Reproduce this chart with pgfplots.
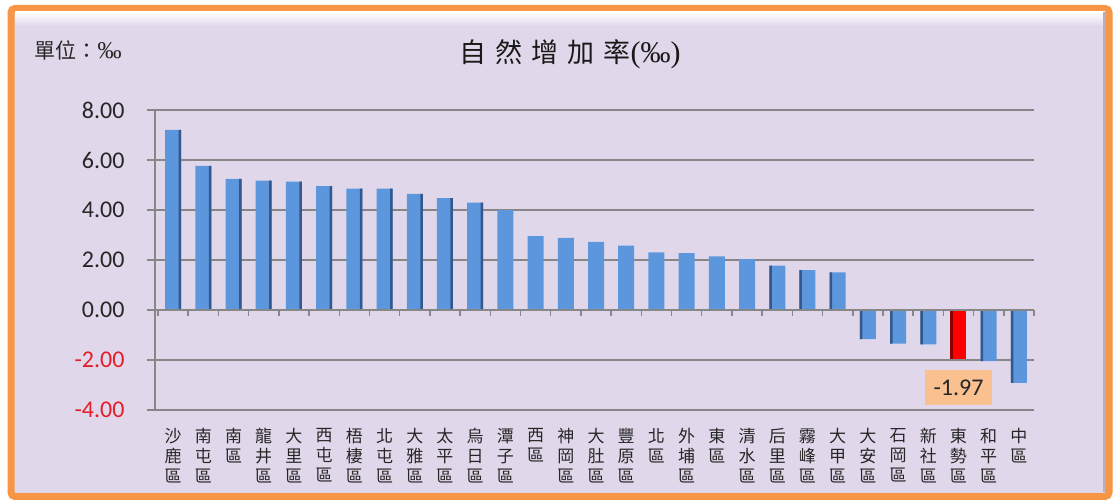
\documentclass[border=0pt]{standalone}
\usepackage{pgfplots}
\pgfplotsset{compat=1.18}
\usepackage{fontspec}
\setmainfont{Carlito}
\newfontfamily\cjk{Noto Sans CJK TC}
\newfontfamily\serifff{Liberation Serif}
\definecolor{bg}{RGB}{224,216,234}
\definecolor{orng}{RGB}{247,150,70}
\definecolor{barblue}{RGB}{92,151,222}
\definecolor{bardark}{RGB}{52,88,140}
\definecolor{gridgray}{RGB}{135,135,135}
\definecolor{lblbox}{RGB}{251,192,143}
\definecolor{negred}{RGB}{228,30,40}
\pgfplotstableread{
x y
0 7.20
1 5.76
2 5.24
3 5.17
4 5.13
5 4.95
6 4.85
7 4.85
8 4.64
9 4.47
10 4.29
11 3.99
12 2.95
13 2.88
14 2.72
15 2.57
16 2.30
17 2.27
18 2.14
19 2.03
20 1.77
21 1.59
22 1.50
23 -1.17
24 -1.35
25 -1.38
27 -2.05
28 -2.92
}\bluedata
\pgfplotstableread{
x y
26 -1.97
}\reddata
\pgfplotstableread{
x y
0 7.20
1 5.76
2 5.24
3 5.17
4 5.13
5 4.95
6 4.85
7 4.85
8 4.64
9 4.47
10 4.29
}\rightshade
\pgfplotstableread{
x y
20 1.77
21 1.59
22 1.50
23 -1.17
24 -1.35
25 -1.38
27 -2.05
28 -2.92
}\leftshade
\pgfplotstableread{
x y
26 -1.97
}\redshade
\begin{document}
\begin{tikzpicture}
\useasboundingbox (0pt,0pt) rectangle (1113pt,500pt);
\fill[white] (0pt,0pt) rectangle (1113pt,500pt);
\draw[orng, line width=7pt, fill=bg, rounded corners=4pt] (11pt,3.5pt) rectangle (1109pt,491.5pt);
\shade[top color=white, bottom color=bg] (15pt,474pt) rectangle (1105pt,488pt);
\fill[gray!45!bg] (1103pt,8pt) rectangle (1105.5pt,488pt);
\node[anchor=west, font=\cjk\fontsize{21}{24}\selectfont, text=black!85] at (31pt,450pt) {單位：{\serifff\fontsize{24}{24}\selectfont ‰}};
\node[font=\cjk\fontsize{27}{30}\selectfont, text=black!90] at (570pt,446pt) {自\hspace{9pt}然\hspace{9pt}增\hspace{9pt}加\hspace{9pt}率{\serifff\fontsize{30}{30}\selectfont (‰)}};
\begin{axis}[
  at={(155pt,90pt)}, anchor=south west,
  scale only axis, width=879pt, height=300pt,
  xmin=-0.6, xmax=28.5, ymin=-4, ymax=8,
  clip=false,
  axis x line*=bottom, axis y line*=left,
  axis line style={gridgray, line width=1.6pt},
  ymajorgrids, grid style={gridgray, line width=2pt},
  ytick={-4,-2,0,2,4,6,8},
  yticklabels={\textcolor{negred}{-4.00},\textcolor{negred}{-2.00},0.00,2.00,4.00,6.00,8.00},
  yticklabel style={font=\fontsize{24}{26}\selectfont, text=black!85, xshift=-19pt},
  tick align=outside, major tick length=8pt,
  ytick style={gridgray, line width=1.5pt},
  xtick={0,...,28},
  xtick style={draw=none},
  xticklabels={{沙\\鹿\\區},{南\\屯\\區},{南\\區},{龍\\井\\區},{大\\里\\區},{西\\屯\\區},{梧\\棲\\區},{北\\屯\\區},{大\\雅\\區},{太\\平\\區},{烏\\日\\區},{潭\\子\\區},{西\\區},{神\\岡\\區},{大\\肚\\區},{豐\\原\\區},{北\\區},{外\\埔\\區},{東\\區},{清\\水\\區},{后\\里\\區},{霧\\峰\\區},{大\\甲\\區},{大\\安\\區},{石\\岡\\區},{新\\社\\區},{東\\勢\\區},{和\\平\\區},{中\\區}},
  xticklabel style={font=\cjk\fontsize{17}{20}\selectfont, align=center, text=black!85, yshift=-7pt},
]
\addplot[ybar, bar width=16pt, bar shift=0pt, fill=barblue, draw=none] table[x=x,y=y] {\bluedata};
\addplot[ybar, bar width=16pt, bar shift=0pt, fill=red, draw=none] table[x=x,y=y] {\reddata};
\addplot[ybar, bar width=2.5pt, bar shift=6.75pt, fill=bardark, draw=none] table[x=x,y=y] {\rightshade};
\addplot[ybar, bar width=2.5pt, bar shift=-6.75pt, fill=bardark, draw=none] table[x=x,y=y] {\leftshade};
\addplot[ybar, bar width=2.5pt, bar shift=-6.75pt, fill=red!55!black, draw=none] table[x=x,y=y] {\redshade};
\draw[gridgray, line width=2pt] (axis cs:-0.6,0) -- (axis cs:28.5,0);
\pgfplotsinvokeforeach{-0.5,0.5,...,28.5}{
  \draw[gridgray, line width=1.5pt] (axis cs:#1,0) -- ([yshift=-6pt]axis cs:#1,0);
}
\node[fill=lblbox, font=\fontsize{24}{26}\selectfont, text=black!85, inner xsep=9pt, minimum height=35pt] at (axis cs:26,-3.12) {-1.97};
\end{axis}
\end{tikzpicture}
\end{document}
